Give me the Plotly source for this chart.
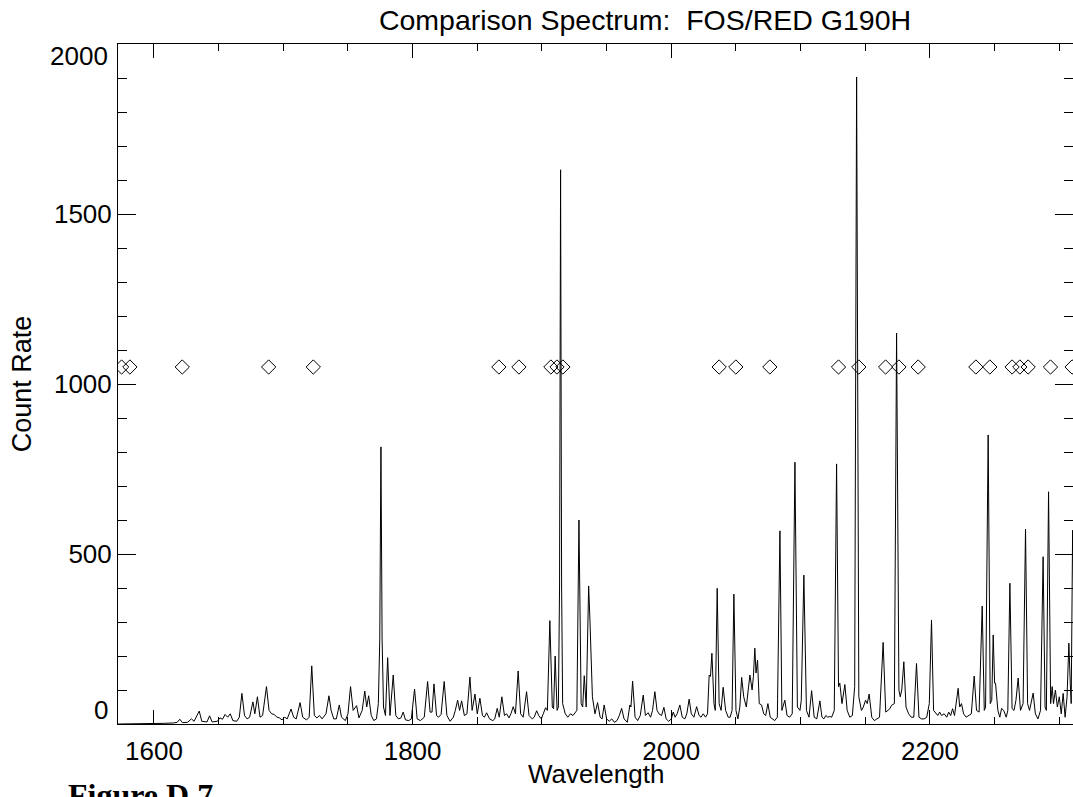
import plotly.graph_objects as go

# Spectrum vertices (wavelength, count rate)
wavelength = [
    1572, 1600, 1608, 1615, 1618, 1620, 1622, 1626, 1629, 1631, 1635, 1637, 1641, 1643, 1645, 1649, 1651, 1653, 1655, 1657, 1659, 1661, 1664,
    1666, 1668, 1670, 1672, 1674, 1676.5, 1678, 1680, 1682, 1684, 1687, 1689, 1691, 1693, 1695, 1697, 1699, 1701, 1703, 1706, 1708, 1710,
    1713, 1715, 1718, 1720, 1722, 1724, 1726, 1728, 1730, 1733, 1735.3, 1737, 1739, 1741, 1743.3, 1745, 1748, 1750, 1752, 1754, 1756.7,
    1758.5, 1761, 1763, 1764.5, 1766, 1768, 1770, 1772, 1773.5, 1774.6, 1775.5, 1776.4, 1777.5, 1779, 1780.7, 1782.5, 1785, 1787, 1789,
    1791, 1792.7, 1794.5, 1797, 1799, 1801.5, 1803.5, 1806, 1809, 1811.6, 1813.5, 1815, 1816.5, 1818.5, 1820, 1822, 1824.4, 1826.5, 1829,
    1831.5, 1833, 1834.8, 1836.3, 1837.9, 1840, 1842, 1844.3, 1846, 1848.2, 1850, 1852, 1854, 1855.5, 1857.2, 1859.5, 1862, 1863.5,
    1865.4, 1867, 1869, 1871, 1872.7, 1874.5, 1876, 1877.8, 1879.5, 1881.6, 1883.5, 1885.5, 1888.1, 1890, 1892.5, 1894, 1895.9, 1897.5,
    1899.5, 1901, 1902.8, 1904.2, 1906.1, 1908, 1909, 1910.2, 1911.7, 1912.7, 1913.6, 1914.4, 1915.2, 1916, 1918, 1920, 1922, 1924, 1926,
    1927, 1928.6, 1930.3, 1931.5, 1932.7, 1934.2, 1936.1, 1937.1, 1939, 1941, 1943, 1945, 1946.5, 1948.1, 1950, 1952, 1954, 1956, 1958,
    1959.8, 1961.6, 1963.5, 1966, 1968, 1968.8, 1970.1, 1972, 1974, 1976, 1978.3, 1980, 1982.1, 1984, 1985.5, 1987.3, 1989, 1990.5,
    1992.5, 1994.3, 1996, 1998, 2000, 2001.5, 2003, 2004.5, 2006.6, 2008.5, 2010.5, 2012, 2013.8, 2015.5, 2017.5, 2019.6, 2021.5, 2023,
    2024.7, 2026.5, 2028, 2029.3, 2030.3, 2031.4, 2033, 2034, 2035.5, 2037, 2038.5, 2040.1, 2042, 2044, 2045.5, 2047, 2048.4, 2050,
    2051.5, 2053, 2054.4, 2056, 2058, 2060.8, 2062.5, 2063.5, 2064.6, 2065.5, 2066.7, 2068, 2069.8, 2071.5, 2073, 2074.7, 2076.5, 2078.5,
    2080, 2082, 2084, 2085.5, 2087.8, 2089.5, 2091.5, 2093.5, 2095.6, 2097.5, 2099.5, 2100.5, 2102.5, 2104.5, 2106.5, 2108.5, 2110.5,
    2112.5, 2114.9, 2116.5, 2118, 2119.5, 2121, 2122.5, 2124, 2126, 2127.8, 2129.3, 2130.3, 2132, 2134.2, 2136, 2138, 2140, 2141.8,
    2143.3, 2145, 2147, 2148.5, 2150.2, 2151.5, 2153, 2155, 2157, 2159, 2161, 2163.8, 2165.8, 2167.5, 2169, 2170.3, 2172.5, 2174.2, 2176,
    2177, 2178.2, 2179.8, 2181.5, 2183.5, 2185.5, 2187.5, 2189.6, 2191.5, 2193.5, 2195.5, 2197.5, 2199.5, 2201.2, 2202.8, 2204.5, 2206,
    2207.5, 2209, 2211, 2213, 2214.5, 2216, 2217.5, 2219, 2221.8, 2223, 2224.4, 2226, 2228, 2230, 2232, 2234.2, 2236, 2238, 2240.4, 2242,
    2243, 2245, 2246.6, 2247.8, 2248.9, 2250, 2250.7, 2252.5, 2254, 2255.4, 2257, 2259, 2260.2, 2261.8, 2263.5, 2265, 2266.5, 2268.2,
    2270, 2271, 2272, 2273.9, 2275.5, 2277, 2278.3, 2279.8, 2281.5, 2283.5, 2285.5, 2287.5, 2289, 2290, 2291.7, 2293.3, 2294.5, 2295.5,
    2297, 2298.5, 2300, 2301.5, 2303, 2304.5, 2306, 2307.4, 2308.5, 2309.2, 2310.3, 2311.5,
]
count_rate = [
    0, 0, 2, 3, 5, 14, 4, 5, 15, 8, 38, 8, 6, 24, 6, 8, 18, 14, 28, 20, 30, 10, 8,
    20, 90, 25, 15, 20, 65, 30, 80, 20, 25, 110, 40, 30, 28, 20, 18, 12, 20, 15, 44, 20, 15,
    63, 20, 12, 20, 171, 25, 18, 25, 15, 30, 83, 40, 15, 15, 56, 20, 10, 30, 110, 40, 54,
    18, 40, 97, 50, 83, 25, 10, 15, 60, 250, 815, 250, 50, 25, 195, 25, 144, 25, 15,
    18, 35, 12, 10, 15, 103, 15, 10, 20, 125, 35, 35, 118, 25, 20, 28, 125, 25, 8,
    20, 40, 70, 40, 68, 25, 30, 138, 40, 88, 30, 76, 25, 20, 33, 15, 10, 15,
    46, 20, 80, 25, 30, 18, 30, 51, 30, 156, 30, 20, 95, 25, 15, 20, 39, 25,
    15, 30, 48, 40, 304, 50, 45, 200, 40, 50, 400, 1630, 400, 60, 30, 20, 30, 25, 35,
    40, 600, 60, 50, 142, 50, 406, 306, 80, 30, 63, 20, 15, 56, 15, 8, 15, 5, 10,
    25, 46, 15, 5, 56, 50, 126, 20, 10, 25, 85, 25, 33, 20, 40, 95, 40, 30,
    25, 49, 15, 8, 15, 35, 20, 30, 56, 20, 15, 30, 73, 30, 20, 51, 25, 20,
    30, 20, 30, 144, 140, 208, 60, 40, 399, 60, 40, 108, 40, 20, 20, 40, 382, 40,
    15, 50, 137, 80, 50, 144, 100, 140, 223, 150, 188, 60, 56, 30, 25, 60, 20, 15,
    10, 20, 568, 40, 70, 25, 20, 30, 770, 50, 40, 70, 438, 40, 20, 98, 20,
    15, 68, 20, 15, 25, 20, 22, 20, 40, 765, 110, 120, 60, 116, 40, 20, 25, 110,
    1903, 80, 40, 50, 70, 60, 88, 20, 10, 15, 20, 240, 35, 40, 45, 55, 60, 1150, 100,
    80, 100, 183, 50, 30, 20, 20, 178, 20, 15, 15, 20, 60, 306, 40, 30, 25,
    35, 25, 30, 20, 35, 25, 45, 25, 105, 50, 60, 30, 20, 25, 30, 141, 40, 35, 347, 40,
    50, 850, 60, 70, 262, 120, 120, 40, 20, 46, 40, 20, 40, 414, 45, 40, 70, 135,
    40, 50, 60, 573, 60, 40, 60, 91, 30, 15, 40, 492, 50, 40, 683, 60, 110, 60,
    100, 50, 80, 30, 90, 20, 80, 238, 120, 60, 570, 300,
]

# Identified line positions (diamonds), all plotted at one count level
marker_wavelength = [
    1575.0, 1581.4, 1621.9, 1688.7, 1723.2, 1866.7, 1882.2, 1906.9, 1911.6, 1916.2,
    2037.0, 2049.9, 2076.2, 2129.3, 2145.0, 2165.7, 2176.0, 2190.9, 2235.5, 2246.3,
    2263.5, 2269.5, 2275.9, 2293.2, 2309.9,
]
marker_level = [1050] * len(marker_wavelength)

x_range = [1572.2, 2310.6]
y_range = [0, 2000]
x_major = [1600, 1800, 2000, 2200]
y_major = [500, 1000, 1500]
y_edge_labels = [0, 2000]

FONT = "Arial, Liberation Sans, sans-serif"

fig = go.Figure()
fig.add_trace(go.Scatter(
    x=wavelength, y=count_rate, mode="lines",
    line=dict(color="black", width=1), showlegend=False, hoverinfo="skip",
))
fig.add_trace(go.Scatter(
    x=marker_wavelength, y=marker_level, mode="markers",
    marker=dict(symbol="diamond-open", size=11, color="black", line=dict(width=1, color="black")),
    showlegend=False, cliponaxis=True,
))

fig.update_layout(
    width=1073, height=797,
    margin=dict(l=118, r=0, t=44, b=73),
    paper_bgcolor="white", plot_bgcolor="white",
    font=dict(family=FONT, size=26, color="black"),
    title=dict(
        text="Comparison Spectrum:  FOS/RED G190H",
        xref="container", x=645 / 1073, xanchor="center",
        yref="container", y=1 - 20 / 797, yanchor="middle",
        font=dict(size=28.5, family=FONT, color="black"),
    ),
    showlegend=False,
)
fig.update_xaxes(
    range=x_range, tickmode="array", tickvals=x_major,
    ticks="inside", ticklen=14, tickwidth=1, tickcolor="black",
    minor=dict(dtick=50, tick0=1600, ticks="inside", ticklen=7, tickwidth=1, tickcolor="black"),
    showline=True, linecolor="black", linewidth=1, mirror="allticks",
    showgrid=False, zeroline=False,
    tickfont=dict(size=26, family=FONT), ticklabelstandoff=4,
)
fig.update_yaxes(
    range=y_range, tickmode="array", tickvals=y_major,
    ticks="inside", ticklen=18, tickwidth=1, tickcolor="black",
    minor=dict(dtick=100, tick0=0, ticks="inside", ticklen=9, tickwidth=1, tickcolor="black"),
    showline=True, linecolor="black", linewidth=1, mirror="allticks",
    showgrid=False, zeroline=False,
    tickfont=dict(size=26, family=FONT),
    title=dict(text="Count Rate", font=dict(size=27, family=FONT), standoff=14),
)

# x-axis title placed as in the reference (close under the tick labels)
fig.add_annotation(xref="paper", yref="paper", x=0.5, y=-50 / 680, text="Wavelength",
                   showarrow=False, xanchor="center", yanchor="middle",
                   font=dict(size=26, family=FONT, color="black"))

# IDL-style edge labels (0 and 2000 kept inside the axis span)
fig.add_annotation(xref="paper", yref="y", x=0, y=y_edge_labels[0], text=str(y_edge_labels[0]),
                   showarrow=False, xanchor="right", yanchor="bottom", xshift=-8, yshift=-3,
                   font=dict(size=26, family=FONT, color="black"))
fig.add_annotation(xref="paper", yref="y", x=0, y=y_edge_labels[1], text=str(y_edge_labels[1]),
                   showarrow=False, xanchor="right", yanchor="top", xshift=-8, yshift=5,
                   font=dict(size=26, family=FONT, color="black"))

fig.add_annotation(xref="paper", yref="paper", x=-52 / 955, y=-51 / 680, text="<b>Figure D.7</b>",
                   showarrow=False, xanchor="left", yanchor="top",
                   font=dict(size=32, family="Liberation Serif, Times New Roman, serif", color="black"))

fig.write_html("out.html")
